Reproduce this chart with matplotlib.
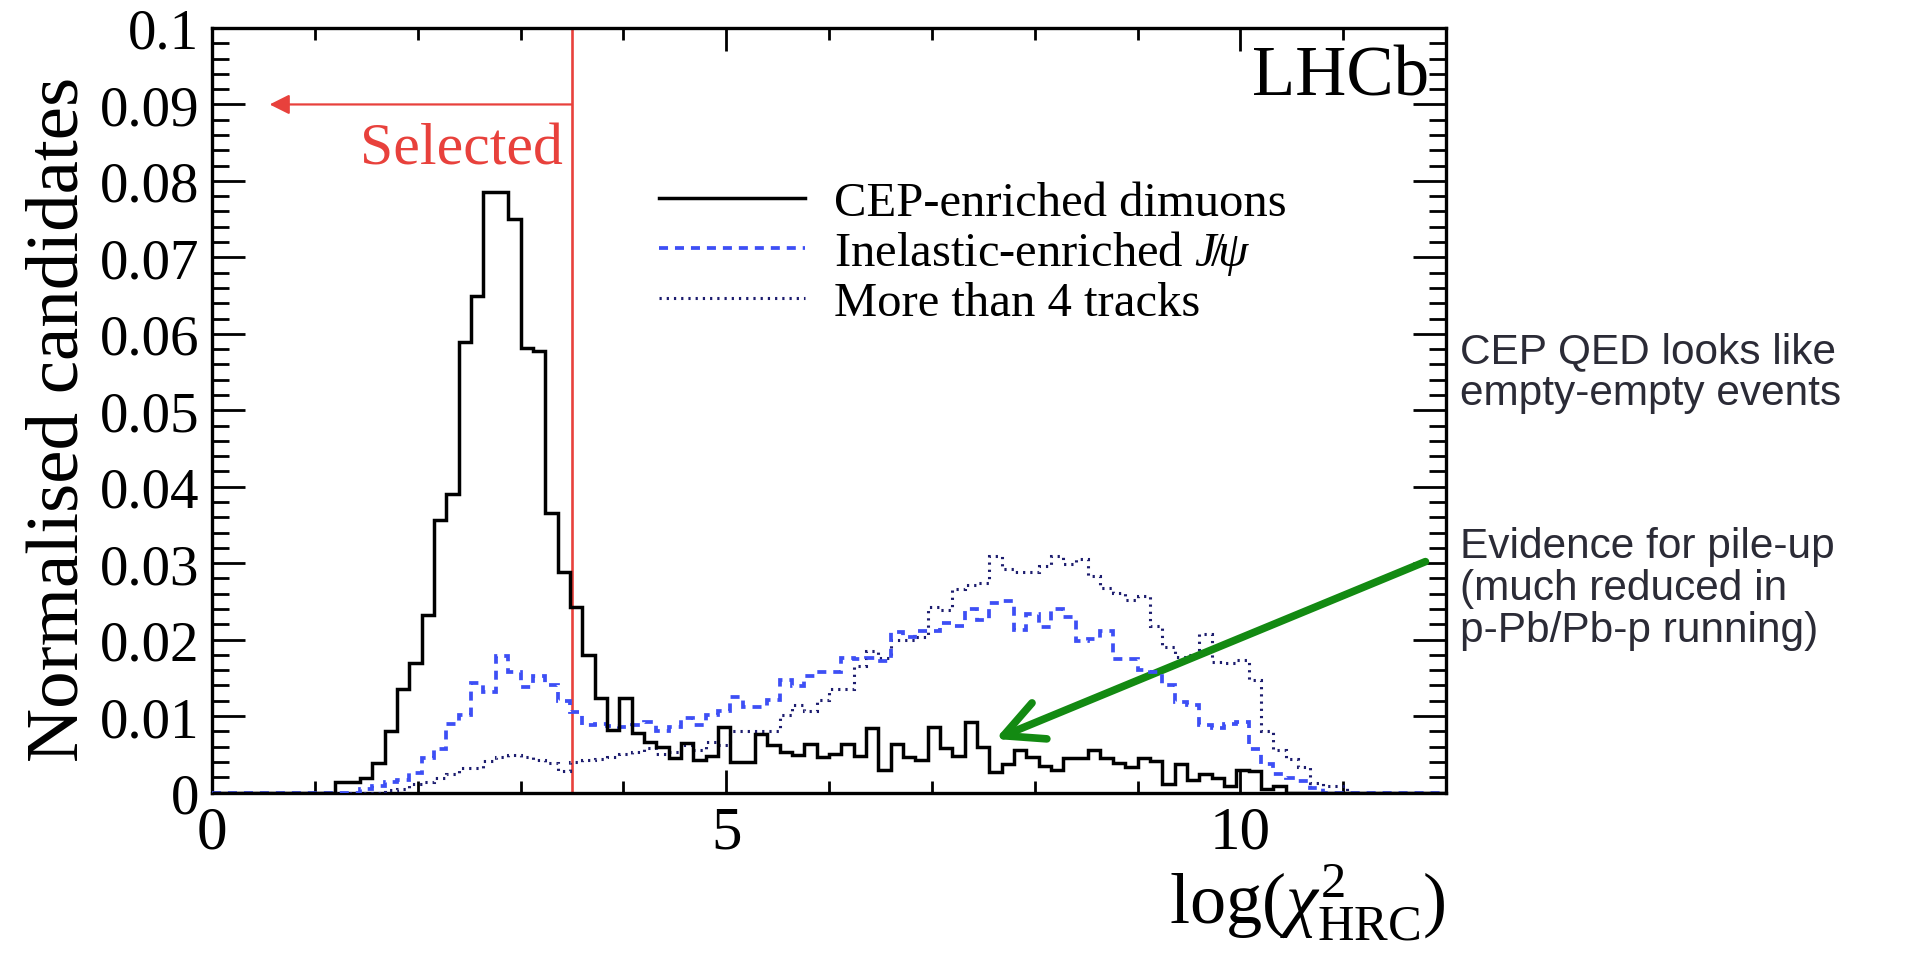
import numpy as np
import matplotlib
matplotlib.use("Agg")
import matplotlib.pyplot as plt

# ---------------- data (100 bins from 0 to 12) ----------------
bin_lo, bin_hi, n_bins = 0.0, 12.0, 100

cep_dimuons = [0, 0, 0, 0, 0, 0, 0, 0, 0, 0,
               0.0014, 0.0014, 0.0019, 0.0039, 0.0081, 0.0136, 0.0170, 0.0232, 0.0356, 0.0391,
               0.0589, 0.0650, 0.0786, 0.0786, 0.0750, 0.0582, 0.0577, 0.0366, 0.0289, 0.0243,
               0.0180, 0.0123, 0.0082, 0.0124, 0.0078, 0.0066, 0.0060, 0.0045, 0.0065, 0.0042,
               0.0048, 0.0086, 0.0040, 0.0040, 0.0077, 0.0062, 0.0053, 0.0049, 0.0064, 0.0046,
               0.0051, 0.0064, 0.0048, 0.0084, 0.0029, 0.0064, 0.0047, 0.0043, 0.0086, 0.0058,
               0.0048, 0.0092, 0.0060, 0.0027, 0.0037, 0.0055, 0.0046, 0.0035, 0.0030, 0.0045,
               0.0045, 0.0055, 0.0045, 0.0039, 0.0033, 0.0045, 0.0041, 0.0011, 0.0037, 0.0017,
               0.0024, 0.0019, 0.0008, 0.0030, 0.0028, 0.0004, 0.0008, 0, 0, 0,
               0, 0, 0, 0, 0, 0, 0, 0, 0, 0]

inelastic_jpsi = [0, 0, 0, 0, 0, 0, 0, 0, 0, 0,
                  0, 0, 0.0005, 0.0008, 0.0014, 0.0016, 0.0025, 0.0045, 0.0057, 0.0089,
                  0.0101, 0.0143, 0.0132, 0.0178, 0.0158, 0.0138, 0.0153, 0.0140, 0.0120, 0.0105,
                  0.0088, 0.0090, 0.0087, 0.0086, 0.0088, 0.0092, 0.0080, 0.0086, 0.0097, 0.0088,
                  0.0101, 0.0106, 0.0125, 0.0112, 0.0112, 0.0121, 0.0147, 0.0139, 0.0152, 0.0158,
                  0.0158, 0.0176, 0.0174, 0.0176, 0.0172, 0.0210, 0.0204, 0.0211, 0.0211, 0.0222,
                  0.0218, 0.0240, 0.0225, 0.0248, 0.0250, 0.0213, 0.0233, 0.0217, 0.0240, 0.0230,
                  0.0198, 0.0201, 0.0211, 0.0174, 0.0174, 0.0160, 0.0158, 0.0140, 0.0118, 0.0114,
                  0.0088, 0.0085, 0.0090, 0.0092, 0.0057, 0.0037, 0.0024, 0.0019, 0.0015, 0.0006,
                  0, 0, 0, 0, 0, 0, 0, 0, 0, 0]

more_than_4 = [0, 0, 0, 0, 0, 0, 0, 0, 0, 0,
               0, 0, 0, 0, 0.0003, 0.0005, 0.0011, 0.0014, 0.0019, 0.0024,
               0.0032, 0.0032, 0.0041, 0.0046, 0.0049, 0.0046, 0.0043, 0.0038, 0.0028, 0.0040,
               0.0042, 0.0044, 0.0046, 0.0050, 0.0053, 0.0058, 0.0050, 0.0053, 0.0062, 0.0055,
               0.0066, 0.0062, 0.0081, 0.0081, 0.0081, 0.0081, 0.0101, 0.0114, 0.0106, 0.0121,
               0.0136, 0.0136, 0.0165, 0.0185, 0.0176, 0.0200, 0.0200, 0.0204, 0.0243, 0.0239,
               0.0266, 0.0272, 0.0274, 0.0310, 0.0292, 0.0288, 0.0288, 0.0296, 0.0310, 0.0299,
               0.0305, 0.0283, 0.0268, 0.0261, 0.0252, 0.0257, 0.0218, 0.0190, 0.0177, 0.0180,
               0.0207, 0.0171, 0.0169, 0.0173, 0.0147, 0.0081, 0.0055, 0.0044, 0.0033, 0.0013,
               0.0008, 0.0008, 0, 0, 0, 0, 0, 0, 0, 0]

x_major = [0, 5, 10]
x_minor = list(range(0, 13))
y_major = [0, 0.01, 0.02, 0.03, 0.04, 0.05, 0.06, 0.07, 0.08, 0.09, 0.1]
y_labels = ["0", "0.01", "0.02", "0.03", "0.04", "0.05", "0.06", "0.07", "0.08", "0.09", "0.1"]

cut_value = 3.5
sel_arrow_y = 0.09
sel_arrow_end = 0.56
pileup_arrow_tail = (11.80, 0.0302)
pileup_arrow_tip = (7.62, 0.0070)

series_labels = ["CEP-enriched dimuons", r"Inelastic-enriched $J\!/\!\psi$", "More than 4 tracks"]
side_text_1 = "CEP QED looks like\nempty-empty events"
side_text_2 = "Evidence for pile-up\n(much reduced in\np-Pb/Pb-p running)"

# ---------------- style ----------------
plt.rcParams["font.family"] = ["Liberation Serif", "DejaVu Serif"]
plt.rcParams["mathtext.fontset"] = "custom"
plt.rcParams["mathtext.rm"] = "Liberation Serif"
plt.rcParams["mathtext.it"] = "Liberation Serif:italic"
plt.rcParams["mathtext.bf"] = "Liberation Serif:bold"
plt.rcParams["lines.scale_dashes"] = False

RED = "#e8413c"
BLUE = "#3d4ff5"
NAVY = "#1c1c6e"
GREEN = "#138a12"

W, H = 1914, 954
fig = plt.figure(figsize=(W / 100, H / 100), dpi=100)
ax = fig.add_axes([212 / W, 1 - 793.5 / H, 1234 / W, 764.5 / H])

edges = np.linspace(bin_lo, bin_hi, n_bins + 1)
h3 = ax.stairs(more_than_4, edges, color=NAVY, lw=2.2, linestyle=(0, (1.6, 3.6)), zorder=3)
h2 = ax.stairs(inelastic_jpsi, edges, color=BLUE, lw=2.7, linestyle=(0, (6.5, 5)), zorder=3.1)
h1 = ax.stairs(cep_dimuons, edges, color="black", lw=2.5, zorder=3.2)

ax.set_xlim(bin_lo, bin_hi)
ax.set_ylim(0, 0.1)
ax.set_xticks(x_major)
ax.set_xticks(x_minor, minor=True)
ax.set_xticklabels([str(v) for v in x_major])
ax.set_yticks(y_major)
ax.set_yticks(np.arange(0, 0.1001, 0.002), minor=True)
ax.set_yticklabels(y_labels)

ax.tick_params(axis="both", which="both", direction="in", top=True, right=True,
               width=2, color="black")
ax.tick_params(axis="y", which="major", length=24, pad=9, labelsize=41)
ax.tick_params(axis="y", which="minor", length=12)
ax.tick_params(axis="x", which="major", length=16.5, pad=9, labelsize=44)
ax.tick_params(axis="x", which="minor", length=8.6)
for sp in ax.spines.values():
    sp.set_linewidth(2.4)

# selection cut
ax.axvline(cut_value, color=RED, lw=1.9)
ax.annotate("", xy=(sel_arrow_end, sel_arrow_y), xytext=(cut_value, sel_arrow_y),
            arrowprops=dict(arrowstyle="-|>,head_length=0.6,head_width=0.3",
                            color=RED, lw=1.6, mutation_scale=20,
                            shrinkA=0, shrinkB=0))
ax.text(3.41, 0.0823, "Selected", color=RED, fontsize=43, ha="right", va="baseline")

ax.text(11.84, 0.0913, "LHCb", fontsize=51, ha="right", va="baseline")

leg = ax.legend([h1, h2, h3], series_labels, loc="upper left",
                bbox_to_anchor=(4.35 / 12, 0.800), frameon=False, fontsize=35,
                handlelength=3.0, handletextpad=0.6, labelspacing=0.07,
                borderpad=0, borderaxespad=0)

# axis titles
ax.set_ylabel("Normalised candidates", fontsize=54)
ax.yaxis.set_label_coords(-0.096, 0.490)
ax.set_xlabel(r"log($\chi^{2}_{\mathrm{HRC}}$)", fontsize=52, loc="right")
ax.xaxis.set_label_coords(1.0, -0.090)

# pile-up arrow
ax.annotate("", xy=pileup_arrow_tip, xytext=pileup_arrow_tail,
            arrowprops=dict(arrowstyle="->,head_length=1.4,head_width=0.7",
                            color=GREEN, lw=5.5, mutation_scale=20,
                            shrinkA=0, shrinkB=0),
            annotation_clip=False)

# side notes (va='baseline' -> baseline of the last line)
fig.text(1460 / W, 1 - 405 / H, side_text_1, family=["Liberation Sans", "DejaVu Sans"],
         fontsize=30.5, color="#2b2b36", va="baseline", ha="left", linespacing=1.07)
fig.text(1460 / W, 1 - 642 / H, side_text_2, family=["Liberation Sans", "DejaVu Sans"],
         fontsize=30.5, color="#2b2b36", va="baseline", ha="left", linespacing=1.07)

fig.savefig("out.png", dpi=100)
